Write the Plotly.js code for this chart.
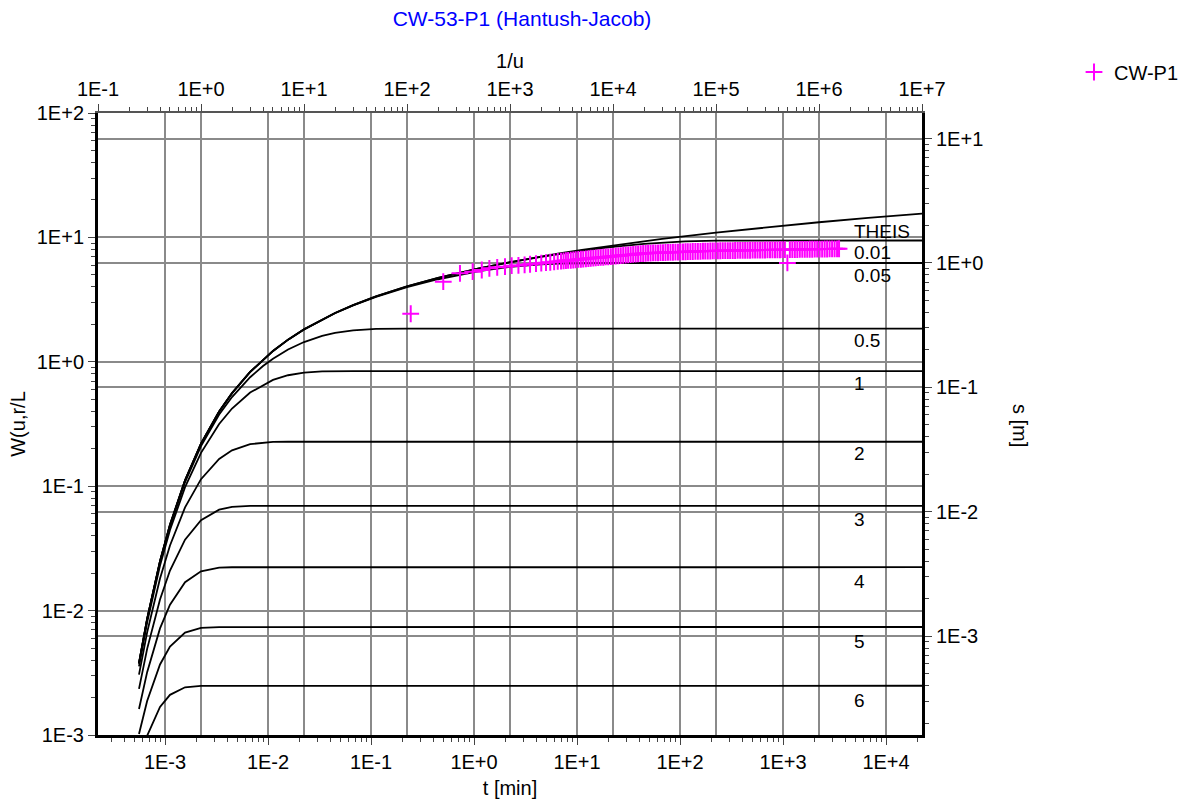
<!DOCTYPE html>
<html><head><meta charset="utf-8">
<script src="https://cdn.plot.ly/plotly-3.0.1.min.js"></script>
<style>html,body{margin:0;padding:0;background:#fff;}#chart{width:1197px;height:802px;}</style>
</head><body><div id="chart"></div>
<script>
// ---- type curves W(u, r/L) versus 1/u ----
const invU_theis = [0.25,0.3,0.4,0.5,0.7,1,1.5,2,3,5,7,10,20,30,50,100,200,300,500,1000,2000,3000,5000,1e4,3e4,1e5,3e5,1e6,3e6,1e7];
const W_theis    = [0.003779,0.00859,0.02491,0.0489,0.1115,0.2194,0.399,0.5598,0.8289,1.2227,1.5068,1.8229,2.4679,2.857,3.3547,4.0379,4.7261,5.1299,5.6394,6.3315,7.0242,7.4295,7.9402,8.6332,9.7318,10.9357,12.0343,13.2383,14.3368,15.5409];
const invU_b001 = [0.25,0.3,0.4,0.5,0.7,1,1.5,2,3,5,7,10,20,30,50,100,200,500,1000,2000,5000,1e4,2e4,3e4,5e4,1e5,2e5,1e7];
const W_b001    = [0.003779,0.00859,0.02491,0.0489,0.1115,0.2194,0.399,0.5598,0.8289,1.2226,1.5067,1.8227,2.4675,2.8563,3.3536,4.0355,4.7212,5.6271,6.3068,6.975,7.8192,8.3982,8.8827,9.1017,9.296,9.4176,9.4413,9.4425];
const invU_b005 = [0.25,0.3,0.4,0.5,0.7,1,1.5,2,3,5,7,10,20,30,50,100,200,300,500,1000,2000,3000,5000,1e4,1e7];
const W_b005    = [0.003779,0.00859,0.0249,0.04888,0.1114,0.2193,0.3987,0.5594,0.8281,1.2209,1.504,1.8184,2.4576,2.8407,3.3264,3.9795,4.6084,4.9546,5.3537,5.796,6.082,6.1703,6.2173,6.2282,6.2285];
const invU_b05 = [0.25,0.3,0.4,0.5,0.7,1,1.5,2,3,4,5,7,10,15,20,30,50,70,100,1e7];
const W_b05    = [0.00373,0.00847,0.02442,0.04773,0.10804,0.21032,0.37655,0.52065,0.75115,0.92444,1.05925,1.25615,1.44165,1.61536,1.70741,1.79207,1.83787,1.84645,1.84857,1.84884];
const invU_b1 = [0.25,0.3,0.4,0.5,0.7,1,1.5,2,3,5,7,10,15,20,30,1e7];
const W_b1    = [0.00356,0.00804,0.02301,0.04442,0.09814,0.1855,0.3166,0.421,0.5662,0.7148,0.7796,0.819,0.8372,0.841,0.842,0.84204];
const invU_b2 = [0.25,0.3,0.4,0.5,0.7,1,1.5,2,3,5,7,10,1e7];
const W_b2    = [0.00306,0.00669,0.01812,0.03339,0.06757,0.11389,0.1658,0.19439,0.21789,0.22681,0.22768,0.22776,0.22778];
const invU_b3 = [0.25,0.3,0.4,0.5,0.7,1,1.5,2,3,5,1e7];
const W_b3    = [0.00235,0.004923,0.0123,0.021,0.03717,0.05336,0.06478,0.06812,0.06936,0.06947,0.06948];
const invU_b4 = [0.25,0.3,0.4,0.5,0.7,1,1.5,2,1e7];
const W_b4    = [0.00162,0.0032,0.00719,0.01116,0.0169,0.0207,0.02212,0.0223,0.02232];
const invU_b5 = [0.25,0.3,0.4,0.5,0.7,1,1.5,1e7];
const W_b5    = [0.00102,0.001878,0.003691,0.005134,0.006648,0.007277,0.007378,0.007382];
const invU_b6 = [0.25,0.3,0.4,0.5,0.7,1,1e7];
const W_b6    = [0.000586,0.000986,0.001682,0.002103,0.002418,0.002483,0.002488];

const curveLabels = ["THEIS","0.01","0.05","0.5","1","2","3","4","5","6"];

// ---- observed drawdown CW-P1: t [min], s [m] ----
const t_obs = [
 0.243,0.503,0.731,0.971,1.19,1.41,1.68,2.0,2.32,2.7,
 3.1,3.5,4.0,4.5,5.0,5.5,6.0,6.5,7,7.4,
 7.8,8.2,8.7,9.2,9.7,10.3,10.9,11.5,12.2,12.9,
 13.6,14.4,15.2,16.1,17,18,19,20.1,21.3,22.5,
 23.8,25.2,26.6,28.1,29.7,31.4,33.2,35.1,37.1,39.2,
 41.5,43.9,46.4,49,51.8,54.8,57.9,61.2,64.7,68.4,
 72.3,76.4,80.8,85.4,90.3,95.5,101,107,113,119,
 126,133,141,149,158,167,176,186,197,208,
 220,233,246,260,275,291,307,325,343,363,
 384,406,429,453,479,507,536,566,599,633,
 669,707,748,790,836,883,934,987,1043,1103,
 1166,1232,1303,1377,1456,1539,1627,1720,1818,1922,
 2032,2148,2270,2400,2537,2682,2835,2997,3168,3349,
 3500];
const s_obs = [
 0.39,0.706,0.825,0.85,0.877,0.905,0.922,0.932,0.95,0.955,
 0.965,0.975,0.985,0.995,1.005,1.012,1.02,1.028,1.035,1.04,
 1.044,1.047,1.05,1.055,1.06,1.066,1.07,1.074,1.079,1.084,
 1.09,1.094,1.098,1.102,1.106,1.11,1.116,1.12,1.125,1.13,
 1.134,1.14,1.145,1.152,1.156,1.16,1.165,1.17,1.176,1.182,
 1.186,1.19,1.193,1.197,1.2,1.202,1.204,1.206,1.208,1.21,
 1.212,1.214,1.216,1.218,1.22,1.223,1.225,1.227,1.229,1.231,
 1.233,1.235,1.237,1.238,1.24,1.242,1.244,1.245,1.247,1.248,
 1.25,1.251,1.252,1.253,1.254,1.255,1.256,1.257,1.258,1.259,
 1.26,1.261,1.262,1.263,1.264,1.265,1.266,1.267,1.268,1.269,
 1.27,1.271,1.272,1.273,1.274,1.275,1.276,1.277,1.278,1.0,
 1.279,1.28,1.281,1.282,1.283,1.284,1.285,1.286,1.287,1.288,
 1.289,1.29,1.291,1.292,1.293,1.294,1.295,1.296,1.297,1.298,
 1.3];

// ---- tick labels ----
const uTickVals = [1e-1,1e0,1e1,1e2,1e3,1e4,1e5,1e6,1e7];
const uTickText = ["1E-1","1E+0","1E+1","1E+2","1E+3","1E+4","1E+5","1E+6","1E+7"];
const tTickVals = [1e-3,1e-2,1e-1,1e0,1e1,1e2,1e3,1e4];
const tTickText = ["1E-3","1E-2","1E-1","1E+0","1E+1","1E+2","1E+3","1E+4"];
const wTickVals = [1e-3,1e-2,1e-1,1e0,1e1,1e2];
const wTickText = ["1E-3","1E-2","1E-1","1E+0","1E+1","1E+2"];
const sTickVals = [1e-3,1e-2,1e-1,1e0,1e1];
const sTickText = ["1E-3","1E-2","1E-1","1E+0","1E+1"];

function minorVals(lo, hi){
  const out=[];
  for(let d=Math.floor(lo); d<=Math.ceil(hi); d++){
    for(let k=2;k<=9;k++){const v=k*Math.pow(10,d); const l=Math.log10(v); if(l>lo && l<hi) out.push(v);}
  }
  return out;
}

const FONT = 'Liberation Sans, Arial, sans-serif';
const FS = 20;
const curveSets = [
  [invU_theis,W_theis],[invU_b001,W_b001],[invU_b005,W_b005],[invU_b05,W_b05],[invU_b1,W_b1],
  [invU_b2,W_b2],[invU_b3,W_b3],[invU_b4,W_b4],[invU_b5,W_b5],[invU_b6,W_b6]];
const traces = curveSets.map((c,i)=>({
  type:'scatter', mode:'lines', x:c[0], y:c[1], xaxis:'x', yaxis:'y',
  line:{color:'#000', width:1.8}, name:curveLabels[i], showlegend:false, hoverinfo:'skip'
}));
traces.push({
  type:'scatter', mode:'markers', x:t_obs, y:s_obs, xaxis:'x2', yaxis:'y2', name:'CW-P1',
  marker:{symbol:'cross-thin', size:12, color:'#ff00ff', line:{color:'#ff00ff', width:2}},
  showlegend:true
});

const GRID = '#8a8a8a';
function axisBase(extra){
  return Object.assign({
    type:'log', tickmode:'array', ticks:'outside', ticklen:7, tickwidth:1, tickcolor:'#444',
    showgrid:true, gridcolor:GRID, gridwidth:2, zeroline:false, showline:true,
    linecolor:'#000', linewidth:3, automargin:false,
    tickfont:{family:FONT, size:FS, color:'#000'}
  }, extra);
}
const tR=[-3.6505,4.3495], uR=[-1,7], wR=[-3,2], sR=[-3.795,1.205];

const plotL=98, plotR=922, plotT=113, plotB=735;
const labelPix = [231,253,275,340,383,453,519,581,641,700];
const annotations = curveLabels.map((txt,i)=>({
  text:txt, xref:'paper', yref:'paper', x:(852-plotL)/(plotR-plotL), y:(plotB-labelPix[i])/(plotB-plotT),
  xanchor:'left', yanchor:'middle', showarrow:false, font:{family:FONT,size:19,color:'#000'}
}));
annotations.push({text:'s [m]', xref:'paper', yref:'paper', x:(1020-plotL)/(plotR-plotL), y:(plotB-425)/(plotB-plotT),
  xanchor:'center', yanchor:'middle', textangle:90, showarrow:false, font:{family:FONT,size:FS,color:'#000'}});

const layout = {
  width:1197, height:802,
  margin:{l:plotL, r:1197-plotR, t:plotT, b:802-plotB},
  paper_bgcolor:'#fff', plot_bgcolor:'#fff',
  font:{family:FONT, size:FS, color:'#000'},
  title:{text:'CW-53-P1 (Hantush-Jacob)', font:{family:FONT, size:21, color:'#0000ff'},
         x:522/1197, xanchor:'center', y:1-19/802, yanchor:'middle'},
  xaxis: axisBase({range:uR, tickvals:uTickVals, ticktext:uTickText, side:'top',
    linecolor:'#555', linewidth:2,
    title:{text:'1/u', standoff:4, font:{family:FONT,size:FS}},
    minor:{tickmode:'array', tickvals:minorVals(uR[0],uR[1]), ticks:'outside', ticklen:4, tickcolor:'#444', showgrid:false}}),
  xaxis2: axisBase({range:tR, tickvals:tTickVals, ticktext:tTickText, side:'bottom', overlaying:'x',
    title:{text:'t [min]', standoff:9, font:{family:FONT,size:FS}},
    minor:{tickmode:'array', tickvals:minorVals(tR[0],tR[1]), ticks:'outside', ticklen:4, tickcolor:'#444', showgrid:false}}),
  yaxis: axisBase({range:wR, tickvals:wTickVals, ticktext:wTickText, side:'left',
    title:{text:'W(u,r/L', standoff:6, font:{family:FONT,size:FS}},
    minor:{tickmode:'array', tickvals:minorVals(wR[0],wR[1]), ticks:'outside', ticklen:4, tickcolor:'#444', showgrid:false}}),
  yaxis2: axisBase({range:sR, tickvals:sTickVals, ticktext:sTickText, side:'right', overlaying:'y',
    minor:{tickmode:'array', tickvals:minorVals(sR[0],sR[1]), ticks:'outside', ticklen:4, tickcolor:'#444', showgrid:false}}),
  legend:{x:(1074-plotL)/(plotR-plotL), y:(plotB-72)/(plotB-plotT), xanchor:'left', yanchor:'middle',
    bgcolor:'rgba(0,0,0,0)', font:{family:FONT,size:FS,color:'#000'}},
  annotations: annotations,
  showlegend:true
};
Plotly.newPlot('chart', traces, layout, {staticPlot:true, displayModeBar:false});
</script></body></html>
